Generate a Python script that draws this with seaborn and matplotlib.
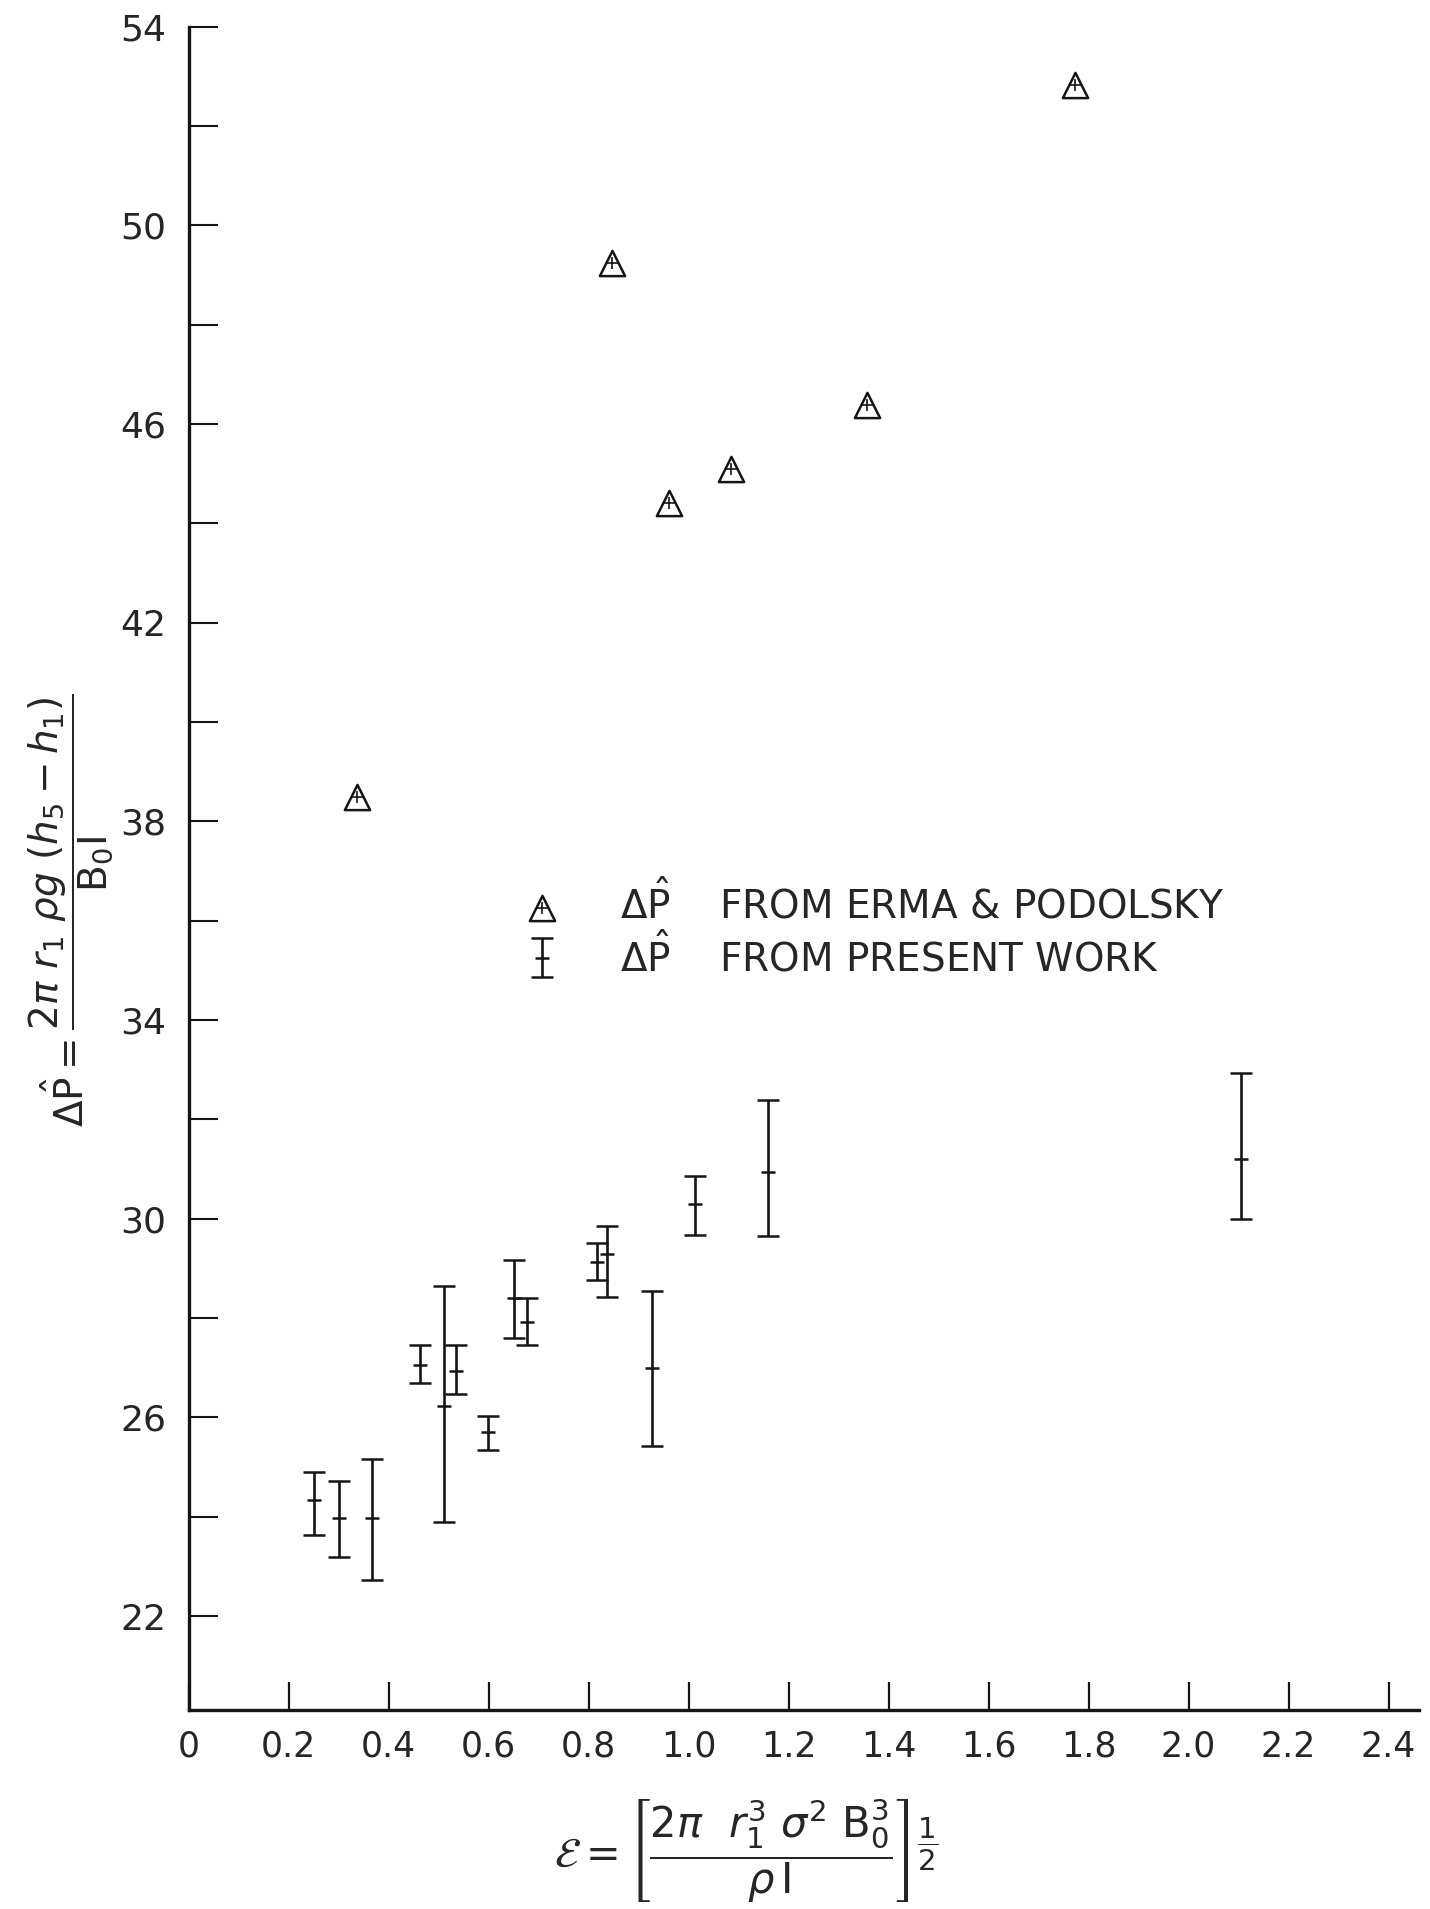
import numpy as np
import pandas as pd
import matplotlib
matplotlib.use("Agg")
import matplotlib.pyplot as plt
from matplotlib.ticker import FixedLocator
from matplotlib.legend_handler import HandlerTuple
import seaborn as sns

# ------------------------------------------------------------
# Data
# ------------------------------------------------------------
# Erma & Podolsky (triangles)
ep_x = [0.337, 0.846, 0.961, 1.085, 1.356, 1.773]
ep_y = [38.5, 49.25, 44.42, 45.09, 46.38, 52.82]

# present work (error bars: centre, low end, high end)
pw_x = [0.251, 0.300, 0.366, 0.463, 0.510, 0.534, 0.598, 0.651,
        0.676, 0.817, 0.837, 0.927, 1.012, 1.159, 2.105]
pw_y = [24.34, 23.97, 23.97, 27.06, 26.23, 26.94, 25.71, 28.41,
        27.92, 29.12, 29.29, 26.99, 30.29, 30.95, 31.20]
pw_lo = [23.63, 23.19, 22.72, 26.69, 23.90, 26.47, 25.34, 27.60,
         27.45, 28.77, 28.43, 25.42, 29.68, 29.66, 30.00]
pw_hi = [24.90, 24.73, 25.17, 27.45, 28.65, 27.45, 26.03, 29.17,
         28.41, 29.51, 29.85, 28.55, 30.86, 32.40, 32.94]

x_ticks = [0.0, 0.2, 0.4, 0.6, 0.8, 1.0, 1.2, 1.4, 1.6, 1.8, 2.0, 2.2, 2.4]
x_ticklabels = ["0", "0.2", "0.4", "0.6", "0.8", "1.0", "1.2", "1.4",
                "1.6", "1.8", "2.0", "2.2", "2.4"]
y_ticks = [22, 26, 30, 34, 38, 42, 46, 50, 54]
y_minor = [24, 28, 32, 36, 40, 44, 48, 52]

ep = pd.DataFrame({"x": ep_x, "y": ep_y})
pw = pd.DataFrame({"x": pw_x, "y": pw_y, "lo": pw_lo, "hi": pw_hi})

# ------------------------------------------------------------
# Plot
# ------------------------------------------------------------
sns.set_style("white")
plt.rcParams["font.family"] = ["DejaVu Sans"]
plt.rcParams["mathtext.fontset"] = "dejavusans"

INK = "#151515"

fig = plt.figure(figsize=(14.30, 19.09), dpi=100)
ax = fig.add_axes([0.132, 0.104, 0.860, 0.882])

# triangles with a small cross inside
sns.scatterplot(data=ep, x="x", y="y", marker="^", s=330,
                facecolor="white", edgecolor=INK, linewidth=1.8, ax=ax,
                zorder=3)
sns.scatterplot(data=ep, x="x", y="y", marker="+", s=70,
                color=INK, linewidth=1.2, ax=ax, zorder=4)

yerr = np.vstack([pw["y"] - pw["lo"], pw["hi"] - pw["y"]])
eb = ax.errorbar(pw["x"], pw["y"], yerr=yerr, fmt="_", color=INK,
                 markersize=10, markeredgewidth=1.8, ecolor=INK,
                 elinewidth=1.9, capsize=8, capthick=1.9, zorder=3)

ax.set_xlim(0, 2.46)
ax.set_ylim(20.1, 54)

ax.xaxis.set_major_locator(FixedLocator(x_ticks))
ax.set_xticklabels(x_ticklabels)
ax.yaxis.set_major_locator(FixedLocator(y_ticks))
ax.yaxis.set_minor_locator(FixedLocator(y_minor))

for side in ["top", "right"]:
    ax.spines[side].set_visible(False)
for side in ["left", "bottom"]:
    ax.spines[side].set_linewidth(2.4)
    ax.spines[side].set_color(INK)

ax.tick_params(axis="x", which="major", direction="in", length=20,
               width=1.6, color=INK, labelsize=25, pad=14, bottom=True)
ax.tick_params(axis="y", which="both", direction="in", length=21,
               width=1.5, color=INK, labelsize=26, pad=16, left=True)

# legend
tri_h = ax.scatter([], [], marker="^", s=330, facecolor="white",
                   edgecolor=INK, linewidth=1.8)
plus_h = ax.scatter([], [], marker="+", s=70, color=INK, linewidth=1.2)
ax.legend([(tri_h, plus_h), eb],
          [r"$\Delta\hat{\mathrm{P}}$    FROM ERMA & PODOLSKY",
           r"$\Delta\hat{\mathrm{P}}$    FROM PRESENT WORK"],
          handler_map={tuple: HandlerTuple(ndivide=1, pad=0)},
          loc="upper left", bbox_to_anchor=(0.256, 0.505),
          frameon=False, fontsize=28, handlelength=1.0,
          handletextpad=1.5, labelspacing=0.15, borderpad=0)

ax.set_ylabel(r"$\Delta\hat{\mathrm{P}} = \dfrac{2\pi\ r_1\ \rho g\ (h_5 - h_1)}{\mathrm{B_0 I}}$",
              fontsize=28)
ax.yaxis.set_label_coords(-0.06, 0.475)

ax.set_xlabel(r"$\mathcal{E} = \left[\dfrac{2\pi\ \ r_1^3\ \sigma^2\ \mathrm{B}_0^3}{\rho\, \mathrm{I}}\right]^{\dfrac{1}{2}}$",
              fontsize=30)
ax.xaxis.set_label_coords(0.453, -0.051)

fig.savefig("out.png", dpi=100, facecolor="white")
plt.close(fig)
